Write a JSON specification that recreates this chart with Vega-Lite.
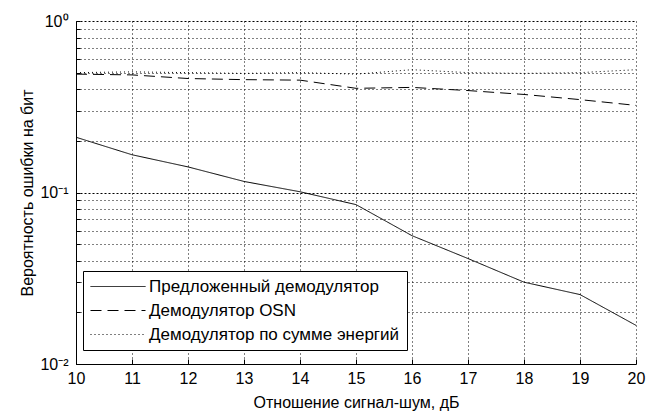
{
  "$schema": "https://vega.github.io/schema/vega-lite/v6.json",
  "width": 560,
  "height": 343,
  "autosize": {"type": "none"},
  "padding": {"left": 76, "top": 21, "right": 19, "bottom": 48},
  "background": "white",
  "config": {
    "font": "Liberation Sans",
    "view": {"stroke": null},
    "axis": {
      "domainColor": "black",
      "domainWidth": 1,
      "tickColor": "black",
      "tickWidth": 1,
      "labelColor": "black",
      "titleColor": "black",
      "gridColor": "black",
      "gridOpacity": 1,
      "gridWidth": 1,
      "gridDash": [1, 3],
      "labelFontSize": 16,
      "titleFontSize": 16,
      "titleFontWeight": "normal",
      "labelFont": "Liberation Sans",
      "titleFont": "Liberation Sans"
    }
  },
  "data": {
    "values": [
      {"snr": 10, "ber": 0.21, "series": "Предложенный демодулятор"},
      {"snr": 11, "ber": 0.166, "series": "Предложенный демодулятор"},
      {"snr": 12, "ber": 0.141, "series": "Предложенный демодулятор"},
      {"snr": 13, "ber": 0.116, "series": "Предложенный демодулятор"},
      {"snr": 14, "ber": 0.101, "series": "Предложенный демодулятор"},
      {"snr": 15, "ber": 0.085, "series": "Предложенный демодулятор"},
      {"snr": 16, "ber": 0.056, "series": "Предложенный демодулятор"},
      {"snr": 17, "ber": 0.0412, "series": "Предложенный демодулятор"},
      {"snr": 18, "ber": 0.030, "series": "Предложенный демодулятор"},
      {"snr": 19, "ber": 0.0254, "series": "Предложенный демодулятор"},
      {"snr": 20, "ber": 0.0168, "series": "Предложенный демодулятор"},
      {"snr": 10, "ber": 0.49, "series": "Демодулятор OSN"},
      {"snr": 11, "ber": 0.485, "series": "Демодулятор OSN"},
      {"snr": 12, "ber": 0.462, "series": "Демодулятор OSN"},
      {"snr": 13, "ber": 0.455, "series": "Демодулятор OSN"},
      {"snr": 14, "ber": 0.452, "series": "Демодулятор OSN"},
      {"snr": 15, "ber": 0.405, "series": "Демодулятор OSN"},
      {"snr": 16, "ber": 0.41, "series": "Демодулятор OSN"},
      {"snr": 17, "ber": 0.393, "series": "Демодулятор OSN"},
      {"snr": 18, "ber": 0.373, "series": "Демодулятор OSN"},
      {"snr": 19, "ber": 0.348, "series": "Демодулятор OSN"},
      {"snr": 20, "ber": 0.322, "series": "Демодулятор OSN"},
      {"snr": 10, "ber": 0.50, "series": "Демодулятор по сумме энергий"},
      {"snr": 11, "ber": 0.505, "series": "Демодулятор по сумме энергий"},
      {"snr": 12, "ber": 0.50, "series": "Демодулятор по сумме энергий"},
      {"snr": 13, "ber": 0.495, "series": "Демодулятор по сумме энергий"},
      {"snr": 14, "ber": 0.50, "series": "Демодулятор по сумме энергий"},
      {"snr": 15, "ber": 0.49, "series": "Демодулятор по сумме энергий"},
      {"snr": 16, "ber": 0.52, "series": "Демодулятор по сумме энергий"},
      {"snr": 17, "ber": 0.50, "series": "Демодулятор по сумме энергий"},
      {"snr": 18, "ber": 0.495, "series": "Демодулятор по сумме энергий"},
      {"snr": 19, "ber": 0.50, "series": "Демодулятор по сумме энергий"},
      {"snr": 20, "ber": 0.52, "series": "Демодулятор по сумме энергий"}
    ]
  },
  "mark": {"type": "line", "color": "black", "strokeWidth": 1, "clip": true},
  "encoding": {
    "x": {
      "field": "snr",
      "type": "quantitative",
      "scale": {"domain": [10, 20], "nice": false, "zero": false},
      "axis": {
        "values": [10, 11, 12, 13, 14, 15, 16, 17, 18, 19, 20],
        "format": "d",
        "grid": true,
        "tickSize": -5,
        "labelPadding": 11,
        "labelFlush": false,
        "labelOverlap": false,
        "title": "Отношение сигнал-шум, дБ",
        "titleX": 280,
        "titleY": 43,
        "titleAlign": "center",
        "titleBaseline": "alphabetic"
      }
    },
    "y": {
      "field": "ber",
      "type": "quantitative",
      "scale": {"type": "log", "domain": [0.01, 1], "nice": false},
      "axis": {
        "values": [0.01, 0.02, 0.03, 0.04, 0.05, 0.06, 0.07, 0.08, 0.09, 0.1, 0.2, 0.3, 0.4, 0.5, 0.6, 0.7, 0.8, 0.9, 1],
        "labelExpr": "datum.value == 1 ? '10⁰' : datum.value == 0.1 ? '10⁻¹' : datum.value == 0.01 ? '10⁻²' : ''",
        "grid": true,
        "gridDash": {"condition": {"test": "datum.value == 1 || datum.value == 0.1 || datum.value == 0.01", "value": [2, 2]}, "value": [1, 3]},
        "tickSize": -4,
        "labelPadding": 12,
        "labelOverlap": false,
        "labelFlush": false,
        "labelBaseline": "middle",
        "title": "Вероятность ошибки на бит",
        "titleAngle": 270,
        "titleX": -44,
        "titleY": 171.5,
        "titleAlign": "center",
        "titleBaseline": "alphabetic"
      }
    },
    "strokeDash": {
      "field": "series",
      "type": "nominal",
      "sort": ["Предложенный демодулятор", "Демодулятор OSN", "Демодулятор по сумме энергий"],
      "scale": {
        "domain": ["Предложенный демодулятор", "Демодулятор OSN", "Демодулятор по сумме энергий"],
        "range": [[1, 0], [11, 6], [1, 3]]
      },
      "legend": {
        "orient": "none",
        "legendX": 7,
        "legendY": 250,
        "title": null,
        "symbolType": "stroke",
        "symbolSize": 3025,
        "symbolStrokeWidth": 1,
        "symbolStrokeColor": "black",
        "labelFontSize": 17,
        "labelFont": "Liberation Sans",
        "labelColor": "black",
        "labelOffset": 3,
        "labelLimit": 0,
        "strokeColor": "black",
        "fillColor": "white",
        "padding": 7,
        "rowPadding": 6,
        "clipHeight": 17
      }
    }
  }
}
